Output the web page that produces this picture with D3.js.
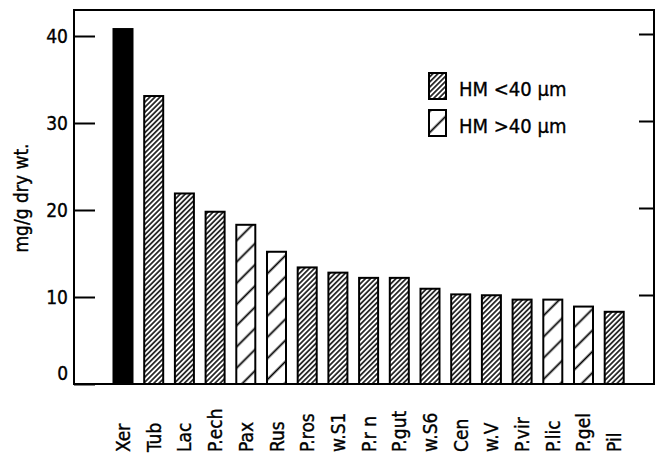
<!DOCTYPE html>
<html>
<head>
<meta charset="utf-8">
<script src="https://cdn.jsdelivr.net/npm/d3@7"></script>
<style>
  html, body { margin: 0; padding: 0; background: #fff; }
  svg { display: block; }
  text { font-family: "DejaVu Sans Condensed", "DejaVu Sans", sans-serif; font-stretch: condensed; fill: #000; stroke: #000; stroke-width: 0.35px; }
</style>
</head>
<body>
<svg id="chart" width="655" height="459"></svg>
<script>
// ---- data ----
const categories = ["Xer","Tub","Lac","P.ech","Pax","Rus","P.ros","w.S1","P.r n","P.gut","w.S6","Cen","w.V","P.vir","P.lic","P.gel","Pil"];
const values     = [40.8, 33.1, 21.9, 19.8, 18.3, 15.2, 13.4, 12.8, 12.2, 12.2, 10.95, 10.3, 10.2, 9.7, 9.7, 8.9, 8.3];
// group: "solid" = reference (black), "small" = HM <40 µm, "large" = HM >40 µm
const groups     = ["solid","small","small","small","large","large","small","small","small","small","small","small","small","small","large","large","small"];
const yTicks = [0, 10, 20, 30, 40];
const yLabel = "mg/g dry wt.";
const legendLabels = ["HM <40 \u00b5m", "HM >40 \u00b5m"];
const legendGroups = ["small", "large"];

// ---- layout ----
const svg = d3.select("#chart");
const frame = { left: 74, right: 654, top: 10, bottom: 384 };

const x = d3.scaleBand().domain(categories).range([113.5, 623.7]).paddingInner(0.381).paddingOuter(0);
const y = d3.scaleLinear().domain([0, 40]).range([384, 36]);

// patterns
const defs = svg.append("defs");
function hatch(id, spacing, width) {
  const p = defs.append("pattern")
    .attr("id", id)
    .attr("patternUnits", "userSpaceOnUse")
    .attr("width", spacing).attr("height", spacing)
    .attr("patternTransform", "rotate(45)");
  p.append("rect").attr("width", spacing).attr("height", spacing).attr("fill", "#fff");
  p.append("line").attr("x1", spacing / 2).attr("x2", spacing / 2)
    .attr("y1", 0).attr("y2", spacing)
    .attr("stroke", "#000").attr("stroke-width", width);
}
hatch("hSmall", 3.6, 1.5);
hatch("hLarge", 15, 1.8);
const fillFor = g => g === "solid" ? "#000" : g === "small" ? "url(#hSmall)" : "url(#hLarge)";

// frame
svg.append("rect")
  .attr("x", frame.left).attr("y", frame.top)
  .attr("width", frame.right - frame.left).attr("height", frame.bottom - frame.top)
  .attr("fill", "none").attr("stroke", "#000").attr("stroke-width", 2);

// bars
svg.append("g").selectAll("rect").data(categories).join("rect")
  .attr("x", d => x(d))
  .attr("y", (d, i) => y(values[i]))
  .attr("width", x.bandwidth())
  .attr("height", (d, i) => y(0) - y(values[i]))
  .attr("fill", (d, i) => fillFor(groups[i]))
  .attr("stroke", "#000").attr("stroke-width", 2);

// left axis (ticks inward)
const leftAxis = d3.axisRight(y).tickValues(yTicks).tickSize(21).tickFormat(d3.format("d"));
const gl = svg.append("g").attr("transform", `translate(${frame.left},0)`).call(leftAxis);
gl.attr("font-family", null).attr("font-size", null);
gl.select(".domain").remove();
gl.selectAll(".tick line").attr("stroke", "#000").attr("stroke-width", 2);
gl.selectAll(".tick text")
  .attr("x", -6).attr("text-anchor", "end")
  .attr("dy", d => d === 0 ? "-0.25em" : "0.36em")
  .attr("fill", "#000")
  .style("font-size", "19px");

// right axis ticks (inward, no labels)
const rightAxis = d3.axisLeft(y).tickValues(yTicks.filter(d => d > 0)).tickSize(15).tickFormat("");
const gr = svg.append("g").attr("transform", `translate(${frame.right},-2)`).call(rightAxis);
gr.select(".domain").remove();
gr.selectAll(".tick line").attr("stroke", "#000").attr("stroke-width", 2);

// x labels (rotated, reading upward)
svg.append("g").selectAll("text").data(categories).join("text")
  .attr("transform", d => `translate(${x(d) + x.bandwidth() / 2 + 7},452) rotate(-90)`)
  .attr("text-anchor", "start")
  .style("font-size", "19px")
  .text(d => d);

// y label
svg.append("text")
  .attr("transform", "translate(28,198) rotate(-90)")
  .attr("text-anchor", "middle")
  .style("font-size", "19px")
  .text(yLabel);

// legend
const lg = svg.append("g");
legendLabels.forEach((lab, i) => {
  const yy = 73 + i * 37;
  lg.append("rect").attr("x", 429).attr("y", yy).attr("width", 17).attr("height", 26)
    .attr("fill", fillFor(legendGroups[i])).attr("stroke", "#000").attr("stroke-width", 2);
  lg.append("text").attr("x", 459).attr("y", yy + 23)
    .style("font-size", "20px").text(lab);
});
</script>
</body>
</html>
